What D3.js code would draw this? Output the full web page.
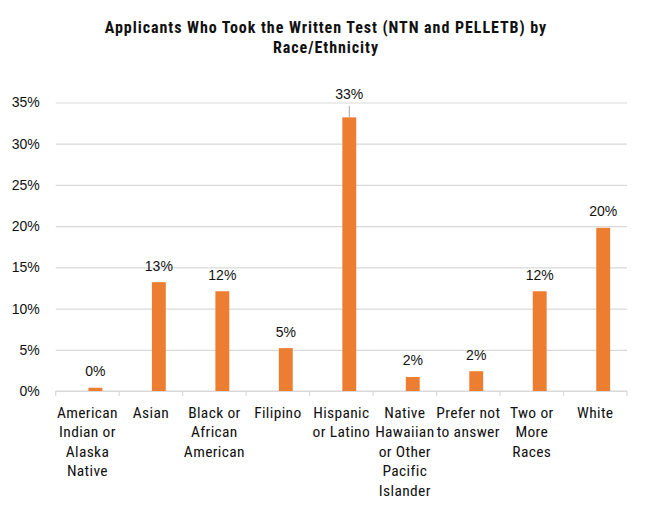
<!DOCTYPE html>
<html>
<head>
<meta charset="utf-8">
<script src="https://cdn.jsdelivr.net/npm/d3@7"></script>
<style>
  body { margin: 0; background: #fff; }
  svg { display: block; }
</style>
</head>
<body>
<svg id="chart"></svg>
<script>
// Data
const categories = [
  "American\nIndian or\nAlaska\nNative",
  "Asian",
  "Black or\nAfrican\nAmerican",
  "Filipino",
  "Hispanic\nor Latino",
  "Native\nHawaiian\nor Other\nPacific\nIslander",
  "Prefer not\nto answer",
  "Two or\nMore\nRaces",
  "White"
];
const shares = [0.004, 0.132, 0.121, 0.052, 0.332, 0.017, 0.024, 0.121, 0.198];
const yTicks = [0, 0.05, 0.10, 0.15, 0.20, 0.25, 0.30, 0.35];
const titleLines = [
  "Applicants Who Took the Written Test (NTN and PELLETB) by",
  "Race/Ethnicity"
];

const width = 650;
const height = 514;
const margin = { top: 102.5, right: 23, bottom: 123, left: 55.7 };

const narrow = "'Liberation Sans Narrow', 'Arial Narrow', 'Roboto Condensed', sans-serif";
const regular = "'Liberation Sans', Arial, sans-serif";
const textColor = "#111";
const gridColor = "#d9d9d9";
const barColor = "#ed7d31";

const svg = d3.select("#chart").attr("width", width).attr("height", height);

// Title
svg.append("text")
  .attr("x", 326)
  .attr("y", 32.5)
  .attr("text-anchor", "middle")
  .style("font-family", narrow)
  .style("font-weight", "bold")
  .style("font-size", "16px")
  .style("letter-spacing", "0.95px")
  .attr("fill", textColor)
  .selectAll("tspan")
  .data(titleLines)
  .join("tspan")
  .attr("x", 326)
  .attr("dy", (d, i) => i === 0 ? 0 : 20.5)
  .text(d => d);

// Scales
const x = d3.scaleBand()
  .domain(categories)
  .range([margin.left, width - margin.right])
  .padding(0);

// Excel clustered layout: an empty first slot pushes the visible bar right of centre
const slot = d3.scaleBand()
  .domain(["empty", "shown"])
  .range([0, x.bandwidth()])
  .paddingInner(0.125)
  .paddingOuter(1.0625);

const y = d3.scaleLinear()
  .domain([0, 0.35])
  .range([height - margin.bottom, margin.top]);

// Gridlines + y labels
const yAxis = svg.append("g")
  .attr("transform", `translate(${margin.left},0)`)
  .call(d3.axisLeft(y)
    .tickValues(yTicks)
    .tickFormat(d3.format(".0%"))
    .tickSize(-(width - margin.left - margin.right))
    .tickPadding(16));
yAxis.select(".domain").remove();
yAxis.selectAll(".tick line").attr("stroke", gridColor).attr("stroke-width", 1.2);
yAxis.selectAll(".tick text")
  .style("font-family", regular)
  .style("font-size", "14px")
  .attr("fill", textColor);

// Category axis: boundary ticks, labels centred in each band
const xAxis = svg.append("g")
  .attr("transform", `translate(0,${y(0)})`);

xAxis.append("line")
  .attr("x1", margin.left)
  .attr("x2", width - margin.right)
  .attr("stroke", gridColor)
  .attr("stroke-width", 1.2);

xAxis.selectAll(".bound")
  .data(categories.concat([null]))
  .join("line")
  .attr("class", "bound")
  .attr("x1", (d, i) => margin.left + i * x.step())
  .attr("x2", (d, i) => margin.left + i * x.step())
  .attr("y1", 0)
  .attr("y2", 5)
  .attr("stroke", gridColor)
  .attr("stroke-width", 1.2);

xAxis.selectAll(".cat")
  .data(categories)
  .join("text")
  .attr("class", "cat")
  .attr("text-anchor", "middle")
  .style("font-family", narrow)
  .style("font-size", "15.5px")
  .style("letter-spacing", "0.35px")
  .attr("fill", textColor)
  .each(function(d) {
    const cx = x(d) + x.bandwidth() / 2;
    d3.select(this).selectAll("tspan")
      .data(d.split("\n"))
      .join("tspan")
      .attr("x", cx)
      .attr("y", (l, i) => 26.5 + i * 19.5)
      .text(l => l);
  });

// Bars
const barX = d => x(d) + slot("shown");

svg.append("g")
  .selectAll("rect")
  .data(categories)
  .join("rect")
  .attr("x", d => barX(d))
  .attr("y", (d, i) => y(shares[i]))
  .attr("width", slot.bandwidth())
  .attr("height", (d, i) => y(0) - y(shares[i]))
  .attr("fill", barColor);

// Data labels (the tallest one was moved up with a leader line)
const fmt = d3.format(".0%");
const labelLift = (v) => v > 0.3 ? 18 : 11.5;

svg.append("g")
  .selectAll("text")
  .data(categories)
  .join("text")
  .attr("x", d => barX(d) + slot.bandwidth() / 2)
  .attr("y", (d, i) => y(shares[i]) - labelLift(shares[i]))
  .attr("text-anchor", "middle")
  .style("font-family", regular)
  .style("font-size", "14px")
  .attr("fill", textColor)
  .text((d, i) => fmt(shares[i]));

svg.append("g")
  .selectAll("line")
  .data(categories.filter((d, i) => shares[i] > 0.3))
  .join("line")
  .attr("x1", d => barX(d) + slot.bandwidth() / 2)
  .attr("x2", d => barX(d) + slot.bandwidth() / 2)
  .attr("y1", d => y(shares[categories.indexOf(d)]) - 11.5)
  .attr("y2", d => y(shares[categories.indexOf(d)]))
  .attr("stroke", "#a6a6a6")
  .attr("stroke-width", 1);
</script>
</body>
</html>
